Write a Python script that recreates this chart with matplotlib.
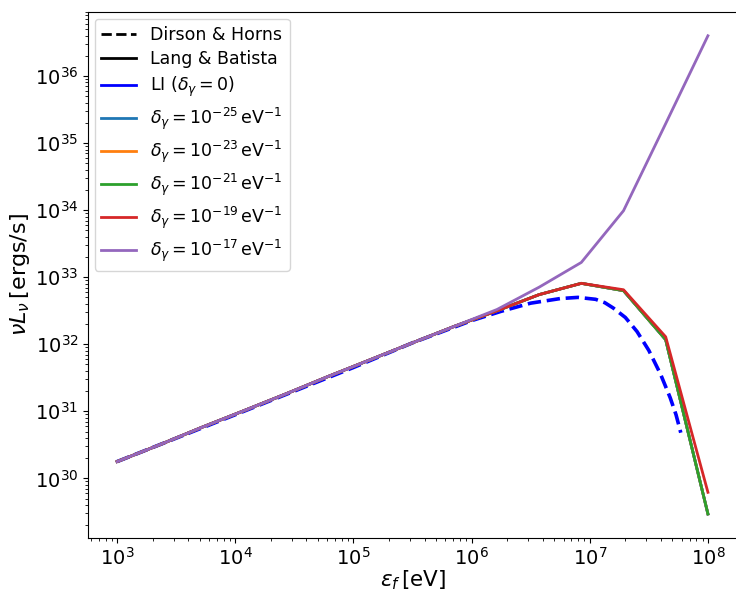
import numpy as np
import matplotlib
matplotlib.use('Agg')
import matplotlib.pyplot as plt

# Lang & Batista grid (eV)
energia = [1.0e3, 2.28e3, 5.18e3, 1.18e4, 2.68e4, 6.11e4, 1.39e5, 3.16e5,
           7.20e5, 1.64e6, 3.73e6, 8.48e6, 1.93e7, 4.39e7, 1.0e8]

# nuL_nu [ergs/s]
lum_li = [1.78e30, 3.16e30, 5.75e30, 1.02e31, 1.82e31, 3.31e31, 5.89e31, 1.05e32,
          1.86e32, 3.16e32, 5.5e32, 8.1e32, 6.3e32, 1.17e32, 2.95e29]
lum_25 = lum_li
lum_23 = lum_li
lum_21 = lum_li
lum_19 = [1.78e30, 3.16e30, 5.75e30, 1.02e31, 1.82e31, 3.31e31, 5.89e31, 1.05e32,
          1.86e32, 3.16e32, 5.5e32, 8.1e32, 6.5e32, 1.29e32, 6.2e29]
lum_17 = [1.78e30, 3.16e30, 5.75e30, 1.02e31, 1.82e31, 3.31e31, 5.89e31, 1.05e32,
          1.86e32, 3.3e32, 7.1e32, 1.66e33, 9.8e33, 1.95e35, 3.98e36]

# Dirson & Horns
energia_dh = [1.0e3, 1.0e4, 1.0e5, 3.16e5, 1.0e6, 1.78e6, 3.16e6, 5.62e6, 7.94e6,
              1.12e7, 1.34e7, 1.58e7, 2.0e7, 2.51e7, 3.16e7, 3.98e7, 4.79e7,
              5.37e7, 5.89e7]
lum_dh = [1.78e30, 8.9e30, 4.5e31, 1.05e32, 2.25e32, 3.1e32, 4.1e32, 4.8e32, 5.0e32,
          4.68e32, 4.17e32, 3.47e32, 2.51e32, 1.55e32, 8.1e31, 3.55e31, 1.6e31,
          8.9e30, 4.8e30]

etiquetas = [r'$\delta_\gamma = 10^{-25}\,$eV$^{-1}$',
             r'$\delta_\gamma = 10^{-23}\,$eV$^{-1}$',
             r'$\delta_\gamma = 10^{-21}\,$eV$^{-1}$',
             r'$\delta_\gamma = 10^{-19}\,$eV$^{-1}$',
             r'$\delta_\gamma = 10^{-17}\,$eV$^{-1}$']
series = [lum_25, lum_23, lum_21, lum_19, lum_17]
colores = ['C0', 'C1', 'C2', 'C3', 'C4']

fig = plt.figure(figsize=(7.36, 5.93), dpi=100)
ax = fig.add_axes([0.119, 0.093, 0.883, 0.887])

ax.plot(energia_dh, lum_dh, '--', color='b', lw=2.6)
ax.plot(energia, lum_li, '-', color='b', lw=2)
for lum, c in zip(series, colores):
    ax.plot(energia, lum, '-', color=c, lw=2)

ax.set_xscale('log')
ax.set_yscale('log')

# legend proxies
ax.plot([], [], 'k--', lw=2, label='Dirson & Horns')
ax.plot([], [], 'k-', lw=2, label='Lang & Batista')
ax.plot([], [], 'b-', lw=2, label=r'LI ($\delta_\gamma = 0$)')
for c, et in zip(colores, etiquetas):
    ax.plot([], [], '-', color=c, lw=2, label=et)

ax.legend(loc='upper left', fontsize=12.5, handlelength=2.0, labelspacing=0.38,
          borderaxespad=0.4)
ax.set_xlabel(r'$\varepsilon_f\,$[eV]', fontsize=15.5, labelpad=0)
ax.set_ylabel(r'$\nu L_\nu\,$[ergs/s]', fontsize=16, labelpad=2)
ax.tick_params(labelsize=14, pad=3)

plt.savefig('out.png', dpi=100)
plt.close()
